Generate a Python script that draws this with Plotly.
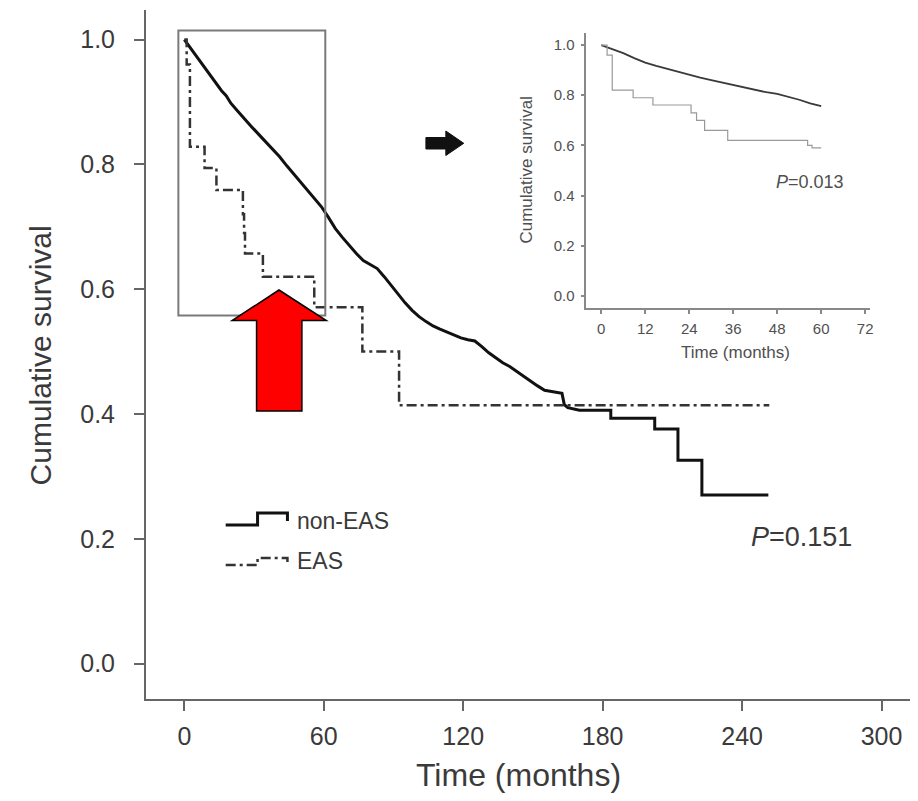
import plotly.graph_objects as go

# ---------------- data ----------------
# Main chart: non-EAS (solid) Kaplan-Meier estimate (drop points listed as corner pairs late on)
non_eas_t = [0, 2, 4, 6, 8, 10, 12, 14, 16, 18, 20, 23, 26, 29, 32, 35, 38, 41, 44, 47,
             50, 53, 56, 59, 62, 65, 68, 71, 74, 77, 80, 83, 86, 89, 92, 95, 98, 101,
             104, 107, 110, 113, 116, 119, 122, 125, 128, 131, 134, 137, 140, 143, 146,
             149, 152, 155, 158, 161, 162.5, 163.5, 165, 170, 183.5, 183.5, 202.4, 202.4,
             212.4, 212.4, 222.7, 222.7, 251.3]
non_eas_s = [1.0, 0.99, 0.978, 0.968, 0.958, 0.948, 0.938, 0.928, 0.918, 0.91, 0.898, 0.885,
             0.872, 0.86, 0.848, 0.836, 0.824, 0.812, 0.798, 0.785, 0.772, 0.758, 0.745,
             0.732, 0.715, 0.697, 0.683, 0.67, 0.657, 0.646, 0.639, 0.633, 0.62, 0.606,
             0.592, 0.578, 0.566, 0.556, 0.548, 0.541, 0.536, 0.531, 0.526, 0.522, 0.519,
             0.517, 0.508, 0.498, 0.49, 0.482, 0.476, 0.468, 0.46, 0.452, 0.445, 0.438,
             0.436, 0.433, 0.433, 0.415, 0.410, 0.406, 0.406, 0.393, 0.393, 0.376,
             0.376, 0.326, 0.326, 0.270, 0.270]

# Main chart: EAS (dash-dot)
eas_t = [0, 1, 2.4, 8.7, 13.8, 25.2, 25.7, 26.1, 33.8, 55.9, 76.6, 92.4, 251.7]
eas_s = [1.0, 0.96, 0.828, 0.794, 0.759, 0.72, 0.69, 0.657, 0.62, 0.571, 0.50, 0.414, 0.414]

# Inset: first 60 months
in_non_t = [0, 3, 6, 9, 12, 15, 18, 21, 24, 27, 30, 33, 36, 39, 42, 45, 48, 51, 54, 57, 60]
in_non_s = [1.0, 0.985, 0.968, 0.948, 0.93, 0.917, 0.905, 0.893, 0.88, 0.87, 0.86, 0.85,
            0.84, 0.83, 0.82, 0.812, 0.805, 0.795, 0.782, 0.768, 0.757]
in_eas_t = [0, 1.6, 3, 8.7, 14.1, 24.5, 26, 28.2, 34.5, 56.3, 57.5, 60]
in_eas_s = [1.0, 0.96, 0.82, 0.79, 0.761, 0.73, 0.70, 0.66, 0.62, 0.60, 0.59, 0.59]

main_xticks = [0, 60, 120, 180, 240, 300]
main_yticks = [0.0, 0.2, 0.4, 0.6, 0.8, 1.0]
inset_xticks = [0, 12, 24, 36, 48, 60, 72]
inset_yticks = [0.0, 0.2, 0.4, 0.6, 0.8, 1.0]

# ---------------- layout helpers ----------------
OFF = 8                      # page body margin offset
W, H = 918 - OFF, 801 - OFF
L, R, T, B = 146 - OFF, 918 - OFF, 10 - OFF, 699 - OFF


def px(x):
    return (x - OFF - L) / (R - L)


def py(y):
    return (B - (y - OFF)) / (B - T)


FONT = "Liberation Sans, Arial, sans-serif"
AX = "#666666"
TXT = "#3a3a3a"
ITXT = "#505050"
DASH = "10px,4px,3px,4px"

fig = go.Figure()

fig.add_trace(go.Scatter(x=non_eas_t, y=non_eas_s, mode="lines", line_shape="linear",
                         line=dict(color="#111111", width=3), showlegend=False,
                         xaxis="x", yaxis="y"))
fig.add_trace(go.Scatter(x=eas_t, y=eas_s, mode="lines", line_shape="hv",
                         line=dict(color="#333333", width=2.5, dash=DASH),
                         showlegend=False, xaxis="x", yaxis="y"))

fig.add_trace(go.Scatter(x=in_non_t, y=in_non_s, mode="lines", line_shape="linear",
                         line=dict(color="#3a3a3a", width=1.8), showlegend=False,
                         xaxis="x2", yaxis="y2"))
fig.add_trace(go.Scatter(x=in_eas_t, y=in_eas_s, mode="lines", line_shape="hv",
                         line=dict(color="#999999", width=1.2), showlegend=False,
                         xaxis="x2", yaxis="y2"))

fig.update_layout(
    width=W, height=H,
    margin=dict(l=L, r=W - R, t=T, b=H - B, pad=0),
    paper_bgcolor="white", plot_bgcolor="white",
    font=dict(family=FONT, color=TXT),
    xaxis=dict(range=[-16.5, 314.4], tickvals=main_xticks, ticks="outside", ticklen=10,
               tickwidth=2, tickcolor=AX, showline=True, linecolor=AX, linewidth=2,
               showgrid=False, zeroline=False, tickfont=dict(size=25, color=TXT),
               ticklabelstandoff=4),
    yaxis=dict(range=[-0.0567, 1.0473], tickvals=main_yticks, tickformat=".1f",
               ticks="outside", ticklen=10, tickwidth=2, tickcolor=AX, showline=True,
               linecolor=AX, linewidth=2, showgrid=False, zeroline=False,
               tickfont=dict(size=25, color=TXT), ticklabelstandoff=14),
    xaxis2=dict(domain=[px(588), px(873)], anchor="y2", range=[-4.08, 73.36],
                tickvals=inset_xticks, ticks="outside", ticklen=4, tickwidth=1.5,
                tickcolor="#888888", showline=True, linecolor="#888888", linewidth=1.5,
                showgrid=False, zeroline=False, tickfont=dict(size=15, color=ITXT),
                ticklabelstandoff=2),
    yaxis2=dict(domain=[py(308), py(33)], anchor="x2", range=[-0.048, 1.048],
                tickvals=inset_yticks, tickformat=".1f", ticks="outside", ticklen=4,
                tickwidth=1.5, tickcolor="#888888", showline=True, linecolor="#888888",
                linewidth=1.5, showgrid=False, zeroline=False,
                tickfont=dict(size=15, color=ITXT), ticklabelstandoff=3),
)


def path(pts, close=False):
    s = "M " + " L ".join(f"{px(a)},{py(b)}" for a, b in pts)
    return s + (" Z" if close else "")


shapes = []
# zoom box around first 60 months
shapes.append(dict(type="rect", xref="paper", yref="paper",
                   x0=px(178.5), x1=px(326), y0=py(315.5), y1=py(30.5),
                   line=dict(color="#7a7a7a", width=2), fillcolor="rgba(0,0,0,0)"))
# black arrow pointing right
ba = [(427, 137.5), (447, 137.5), (447, 131), (465, 143.3), (447, 155.5), (447, 149), (427, 149)]
shapes.append(dict(type="path", xref="paper", yref="paper", path=path(ba, True),
                   fillcolor="#111111", line=dict(color="#111111", width=1)))
# red arrow pointing up
ra = [(279.5, 290), (327, 320.5), (302.5, 320.5), (302.5, 411), (257, 411), (257, 320.5), (232.5, 320.5)]
shapes.append(dict(type="path", xref="paper", yref="paper", path=path(ra, True),
                   fillcolor="#ff0000", line=dict(color="#000000", width=1.5)))
# legend glyphs
g1 = [(226, 525), (258, 525), (258, 513), (288, 513), (288, 521)]
shapes.append(dict(type="path", xref="paper", yref="paper", path=path(g1),
                   line=dict(color="#111111", width=3)))
g2 = [(226, 565), (258, 565), (258, 558), (288, 558), (288, 562)]
shapes.append(dict(type="path", xref="paper", yref="paper", path=path(g2),
                   line=dict(color="#333333", width=2.5, dash=DASH)))
fig.update_layout(shapes=shapes)

ann = []
ann.append(dict(text="Time (months)", xref="paper", yref="paper", x=px(520), y=py(775),
                showarrow=False, font=dict(size=32, color=TXT), xanchor="center", yanchor="middle"))
ann.append(dict(text="Cumulative survival", xref="paper", yref="paper", x=px(40), y=py(355),
                showarrow=False, textangle=-90, font=dict(size=30, color=TXT),
                xanchor="center", yanchor="middle"))
ann.append(dict(text="<i>P</i>=0.151", xref="paper", yref="paper", x=px(804), y=py(537),
                showarrow=False, font=dict(size=27, color=TXT), xanchor="center", yanchor="middle"))
ann.append(dict(text="non-EAS", xref="paper", yref="paper", x=px(296), y=py(521),
                showarrow=False, font=dict(size=23, color=TXT), xanchor="left", yanchor="middle"))
ann.append(dict(text="EAS", xref="paper", yref="paper", x=px(296), y=py(561),
                showarrow=False, font=dict(size=23, color=TXT), xanchor="left", yanchor="middle"))
# inset texts
ann.append(dict(text="Time (months)", xref="paper", yref="paper", x=px(738), y=py(352),
                showarrow=False, font=dict(size=17, color=ITXT), xanchor="center", yanchor="middle"))
ann.append(dict(text="Cumulative survival", xref="paper", yref="paper", x=px(527), y=py(170),
                showarrow=False, textangle=-90, font=dict(size=17, color=ITXT),
                xanchor="center", yanchor="middle"))
ann.append(dict(text="<i>P</i>=0.013", xref="paper", yref="paper", x=px(813), y=py(182),
                showarrow=False, font=dict(size=18, color=ITXT), xanchor="center", yanchor="middle"))
fig.update_layout(annotations=ann)

fig.write_html("out.html")
